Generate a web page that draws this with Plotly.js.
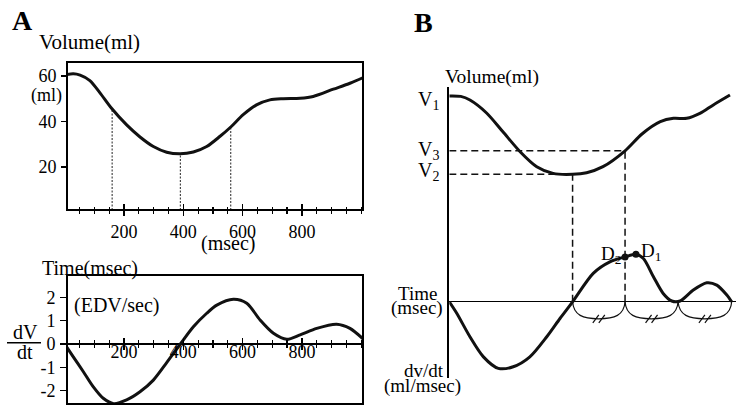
<!DOCTYPE html>
<html><head><meta charset="utf-8">
<script src="https://cdn.plot.ly/plotly-3.0.1.min.js"></script>
<style>html,body{margin:0;padding:0;background:#fff}#chart{width:736px;height:406px}</style>
</head><body><div id="chart"></div>
<script>
// ---------- Panel A : volume (ml) vs time (msec) ----------
const volTime = [0, 29, 52, 85, 119, 158, 209, 254, 299, 344, 389, 434, 479, 524, 561, 602, 647, 692, 737, 794, 838, 906, 962, 1007];
const volMl   = [60.5, 61, 60.4, 58, 52.6, 45.8, 38.5, 33.2, 29, 26.5, 25.8, 26.6, 29, 33.5, 37.7, 43, 47.3, 49.5, 50, 50.2, 51, 54.2, 56.8, 59.3];
const markTimes = [160, 390, 560];
const xTickVals = [200, 400, 600, 800];
const volTickVals = [20, 40, 60];
// ---------- Panel A : dV/dt (EDV/sec) ----------
const dvTime = [0, 29, 63, 96, 130, 165, 209, 254, 299, 344, 390, 434, 479, 513, 569, 614, 659, 704, 749, 794, 850, 917, 962, 1007];
const dvVal  = [0, -0.55, -1.19, -1.83, -2.33, -2.56, -2.4, -2.05, -1.55, -0.8, 0, 0.74, 1.32, 1.67, 1.92, 1.75, 1.03, 0.46, 0.2, 0.39, 0.67, 0.85, 0.67, 0.21];
const dvTickVals = [-2, -1, 0, 1, 2];
const dvTickText = ['-2', '-1', '0', '1', '2'];
// ---------- Panel B : schematic ----------
const bTime = [0, 40, 72, 130, 187, 247, 305, 362, 430, 479, 536, 613, 672, 736, 782, 828, 874, 921, 979];
const bVol  = [61, 60.8, 59.2, 53.4, 45, 36.1, 29.4, 26.4, 26, 26.7, 29.4, 36.5, 44, 49.5, 51, 51, 53.2, 57, 61.4];
const bDvTime = [0, 26, 72, 119, 171, 223, 281, 340, 386, 430, 502, 560, 613, 651, 677, 712, 746, 776, 805, 851, 898, 933, 968, 985];
const bDvVal  = [0, -0.44, -1.34, -2.11, -2.55, -2.49, -2.11, -1.34, -0.64, 0, 1.09, 1.53, 1.72, 1.82, 1.66, 0.96, 0.32, 0.03, 0.03, 0.45, 0.73, 0.64, 0.26, 0];
const bDLabels = ['D2', 'D1'];
const bDTimes = [613, 651];
const bV3Time = 613;
const bBraceEdges = [430, 613, 798, 985];

// ---------- geometry ----------
const W = 736, H = 406;
const FONT = 'Liberation Serif, Times New Roman, serif';
const fx = p => p / W, fy = p => 1 - p / H;
const dAx = [fx(67), fx(363)];
const dAyTop = [fy(210), fy(62)];
const dAyBot = [fy(404), fy(275)];
const xRangeA = [7.8, 1006];
const yRangeTop = [1.1, 66.15];
const yRangeBot = [-2.575, 2.961];
const posZeroA = dAyBot[0] + (0 - yRangeBot[0]) / (yRangeBot[1] - yRangeBot[0]) * (dAyBot[1] - dAyBot[0]);
const bDomX = [fx(449.3), 1];
const bDomY = [fy(378), fy(87)];
const x3R = [0, 1000], y3R = [-65, 65], y4R = [-2.92, 8.23];
const paperY = (v, r) => bDomY[0] + (v - r[0]) / (r[1] - r[0]) * (bDomY[1] - bDomY[0]);
const pxPerX3 = (bDomX[1] - bDomX[0]) * W / (x3R[1] - x3R[0]);
const pxPerY4 = (bDomY[1] - bDomY[0]) * H / (y4R[1] - y4R[0]);

function interp(xs, ys, x) {
  for (let i = 0; i < xs.length - 1; i++) {
    if (x >= xs[i] && x <= xs[i + 1]) return ys[i] + (ys[i + 1] - ys[i]) * (x - xs[i]) / (xs[i + 1] - xs[i]);
  }
  return ys[ys.length - 1];
}

const curve = {color: '#111', width: 3, shape: 'spline', smoothing: 0.8};
const traces = [
  {x: volTime, y: volMl, xaxis: 'x', yaxis: 'y', mode: 'lines', line: curve, hoverinfo: 'skip'},
  {x: dvTime, y: dvVal, xaxis: 'x2', yaxis: 'y2', mode: 'lines', line: curve, hoverinfo: 'skip'},
  {x: bTime, y: bVol, xaxis: 'x3', yaxis: 'y3', mode: 'lines', line: curve, hoverinfo: 'skip'},
  {x: bDvTime, y: bDvVal, xaxis: 'x3', yaxis: 'y4', mode: 'lines', line: curve, hoverinfo: 'skip'},
  {x: bDTimes, y: bDTimes.map(t => interp(bDvTime, bDvVal, t)), xaxis: 'x3', yaxis: 'y4', mode: 'markers',
   marker: {color: '#111', size: 7}, hoverinfo: 'skip'},
  {x: [], y: [], xaxis: 'x5', yaxis: 'y', mode: 'lines', hoverinfo: 'skip'},
  {x: [], y: [], xaxis: 'x6', yaxis: 'y2', mode: 'lines', hoverinfo: 'skip'},
  {x: [], y: [], xaxis: 'x7', yaxis: 'y2', mode: 'lines', hoverinfo: 'skip'}
];

const tickBase = {showgrid: false, zeroline: false, showline: false, automargin: false, tickcolor: '#000', tickwidth: 1.5};
const minorIn = {tickmode: 'linear', tick0: 0, dtick: 50, ticks: 'inside', ticklen: 3.5, tickwidth: 1.2, tickcolor: '#000'};
const minorOut = Object.assign({}, minorIn, {ticks: 'outside', ticklen: 3});

const shapes = [
  {type: 'rect', xref: 'x domain', yref: 'y domain', x0: 0, x1: 1, y0: 0, y1: 1, line: {color: '#000', width: 2}},
  {type: 'rect', xref: 'x2 domain', yref: 'y2 domain', x0: 0, x1: 1, y0: 0, y1: 1, line: {color: '#000', width: 2}},
  // fraction bar for dV/dt
  {type: 'line', xref: 'paper', yref: 'paper', x0: fx(7), x1: fx(41), y0: fy(342.7), y1: fy(342.7), line: {color: '#000', width: 1.5}}
];
markTimes.forEach(t => shapes.push({type: 'line', xref: 'x', yref: 'y', layer: 'below', x0: t, x1: t,
  y0: yRangeTop[0], y1: interp(volTime, volMl, t), line: {color: '#222', width: 1, dash: '2px,1.5px'}}));

// Panel B dashed guides
let iMin = 0; bVol.forEach((v, i) => { if (v < bVol[iMin]) iMin = i; });
const v2 = bVol[iMin], v2t = bTime[iMin];
const v3 = interp(bTime, bVol, bV3Time);
const dashB = {color: '#111', width: 1.5, dash: '7px,4px'};
shapes.push({type: 'line', xref: 'x3', yref: 'y3', x0: 0, x1: v2t, y0: v2, y1: v2, line: dashB});
shapes.push({type: 'line', xref: 'x3', yref: 'y3', x0: 0, x1: bV3Time, y0: v3, y1: v3, line: dashB});
shapes.push({type: 'line', xref: 'x3', yref: 'paper', x0: v2t, x1: v2t, y0: paperY(0, y4R), y1: paperY(v2, y3R), line: dashB});
shapes.push({type: 'line', xref: 'x3', yref: 'paper', x0: bV3Time, x1: bV3Time, y0: paperY(0, y4R), y1: paperY(v3, y3R), line: dashB});

// braces under the time axis
const d = 17 / pxPerY4;
for (let i = 0; i < bBraceEdges.length - 1; i++) {
  const x0 = bBraceEdges[i], x1 = bBraceEdges[i + 1], w = x1 - x0, xm = (x0 + x1) / 2;
  shapes.push({type: 'path', xref: 'x3', yref: 'y4', line: {color: '#111', width: 1.2},
    path: `M ${x0},0 C ${x0 + 0.02 * w},${-0.8 * d} ${x0 + 0.2 * w},${-d} ${xm},${-d} C ${x1 - 0.2 * w},${-d} ${x1 - 0.02 * w},${-0.8 * d} ${x1},0`});
  [-3, 3].forEach(o => {
    const cx = xm + o / pxPerX3;
    shapes.push({type: 'line', xref: 'x3', yref: 'y4', x0: cx - 3 / pxPerX3, x1: cx + 3 / pxPerX3,
      y0: -d - 4 / pxPerY4, y1: -d + 4 / pxPerY4, line: {color: '#111', width: 1.2}});
  });
}

function ann(text, px, py, size, xanchor, extra) {
  return Object.assign({text: text, xref: 'paper', yref: 'paper', x: fx(px), y: fy(py), xanchor: xanchor || 'center',
    yanchor: 'middle', showarrow: false, font: {family: FONT, size: size, color: '#000'}}, extra || {});
}
const annotations = [
  ann('<b>A</b>', 22, 21, 28),
  ann('Volume(ml)', 37, 42, 21, 'left'),
  ann('(ml)', 64, 95, 18, 'right'),
  ann('(msec)', 228, 243, 20),
  ann('Time(msec)', 40, 268, 20, 'left'),
  ann('(EDV/sec)', 72, 305, 20, 'left'),
  ann('dV', 25.5, 332, 20),
  ann('dt', 25, 352, 20),
  ann('<b>B</b>', 423, 22, 28),
  ann('Volume(ml)', 443, 77, 19.5, 'left'),
  ann('V<sub>1</sub>', 441, 100, 20, 'right'),
  ann('V<sub>3</sub>', 441, 151, 20, 'right'),
  ann('V<sub>2</sub>', 441, 171, 20, 'right'),
  ann('Time', 417.5, 293, 19),
  ann('(msec)', 416.5, 308, 19),
  ann('dv/dt', 424, 370, 19),
  ann('(ml/msec)', 422.5, 386, 19)
];
bDLabels.forEach((lab, i) => {
  const left = i === 1;
  annotations.push({text: lab.charAt(0) + '<sub>' + lab.slice(1) + '</sub>', xref: 'x3', yref: 'y4', x: bDTimes[i],
    y: interp(bDvTime, bDvVal, bDTimes[i]), xanchor: left ? 'left' : 'right', yanchor: 'bottom', xshift: left ? 3 : -2, yshift: -12,
    showarrow: false, font: {family: FONT, size: 19, color: '#000'}});
});

const layout = {
  width: W, height: H, margin: {l: 0, r: 0, t: 0, b: 0}, showlegend: false,
  paper_bgcolor: '#fff', plot_bgcolor: 'rgba(0,0,0,0)',
  font: {family: FONT, size: 18, color: '#000'},
  xaxis: Object.assign({}, tickBase, {domain: dAx, range: xRangeA, anchor: 'y', tickmode: 'array', tickvals: xTickVals,
    ticks: 'inside', ticklen: 6, minor: minorIn, tickfont: {size: 18}, ticklabelstandoff: 9}),
  xaxis5: Object.assign({}, tickBase, {domain: dAx, range: xRangeA, anchor: 'y', overlaying: 'x', tickmode: 'array', tickvals: xTickVals,
    ticks: 'outside', ticklen: 5, minor: minorOut, showticklabels: false}),
  yaxis: Object.assign({}, tickBase, {domain: dAyTop, range: yRangeTop, anchor: 'x', tickmode: 'array', tickvals: volTickVals,
    ticks: 'outside', ticklen: 5, tickfont: {size: 18}, ticklabelstandoff: 1}),
  xaxis2: Object.assign({}, tickBase, {domain: dAx, range: xRangeA, anchor: 'free', position: posZeroA, tickmode: 'array', tickvals: xTickVals,
    ticks: 'inside', ticklen: 6, minor: minorIn, showticklabels: false}),
  xaxis6: Object.assign({}, tickBase, {domain: dAx, range: xRangeA, anchor: 'free', position: posZeroA, overlaying: 'x2', tickmode: 'array',
    tickvals: xTickVals, ticks: 'outside', ticklen: 5, minor: minorOut, showticklabels: false}),
  xaxis7: Object.assign({}, tickBase, {domain: dAx, range: xRangeA, anchor: 'free', position: posZeroA + 5 / H, overlaying: 'x2', tickmode: 'array',
    tickvals: xTickVals, ticks: '', showticklabels: true, tickfont: {size: 18}}),
  yaxis2: Object.assign({}, tickBase, {domain: dAyBot, range: yRangeBot, anchor: 'x2', tickmode: 'array', tickvals: dvTickVals,
    ticktext: dvTickText, ticks: 'outside', ticklen: 6, tickfont: {size: 18}, ticklabelstandoff: 1,
    zeroline: true, zerolinecolor: '#000', zerolinewidth: 2}),
  xaxis3: {domain: bDomX, range: x3R, anchor: 'y3', visible: false},
  yaxis3: {domain: bDomY, range: y3R, anchor: 'x3', showgrid: false, zeroline: false, showline: true, linecolor: '#000',
    linewidth: 2, ticks: '', showticklabels: false, automargin: false},
  yaxis4: {domain: bDomY, range: y4R, anchor: 'x3', overlaying: 'y3', showgrid: false, showline: false, ticks: '',
    showticklabels: false, zeroline: true, zerolinecolor: '#000', zerolinewidth: 1.2, automargin: false},
  shapes: shapes,
  annotations: annotations
};
Plotly.newPlot('chart', traces, layout, {staticPlot: true, displayModeBar: false});
</script></body></html>
